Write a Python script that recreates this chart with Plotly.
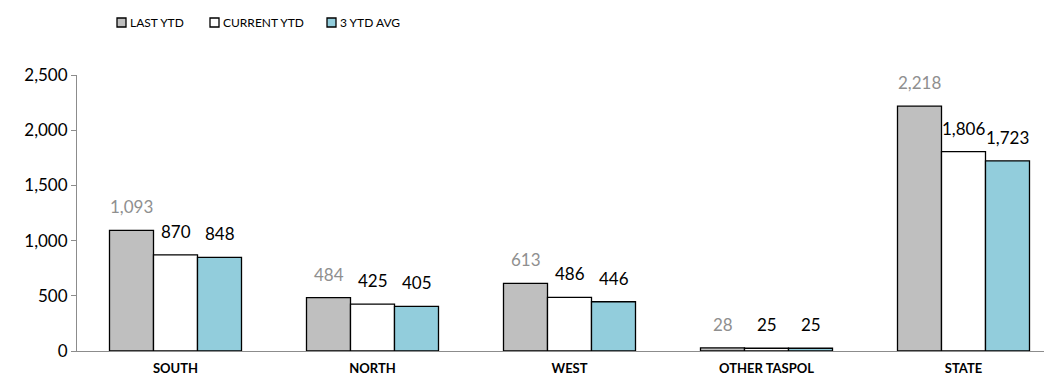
import plotly.graph_objects as go

categories = ["SOUTH", "NORTH", "WEST", "OTHER TASPOL", "STATE"]
last_ytd = [1093, 484, 613, 28, 2218]
current_ytd = [870, 425, 486, 25, 1806]
avg_3ytd = [848, 405, 446, 25, 1723]

series = [
    ("LAST YTD", last_ytd, "#bfbfbf", "#8f8f8f"),
    ("CURRENT YTD", current_ytd, "white", "black"),
    ("3 YTD AVG", avg_3ytd, "#92cddc", "black"),
]

FONT = "Lato, 'Open Sans', sans-serif"

# pixel geometry (page body adds an 8px offset, so margins are trimmed)
PAGE_OFF = 8
L, T, B = 77 - PAGE_OFF, 75 - PAGE_OFF, 27 + PAGE_OFF
W, H = 1052, 378
PW, PH = W - L, H - T - B
CAT_PX = 197
BAR_PX = 44

fig = go.Figure()

for i, (name, vals, fill, txt_color) in enumerate(series):
    fig.add_trace(go.Bar(
        x=categories, y=vals, name=name, showlegend=False,
        marker=dict(color=fill, line=dict(color="black", width=1.3)),
        hoverinfo="x+y",
    ))
    for c, v in zip(categories, vals):
        fig.add_annotation(
            x=c, y=v, text=f"{v:,}", showarrow=False,
            xshift=(i - 1) * BAR_PX, yshift=11, yanchor="bottom",
            font=dict(size=17, family=FONT, color=txt_color),
        )

# legend drawn as small squares + labels (screen pixel positions)
legend_px = [117, 210, 327]
for (name, _, fill, _), px in zip(series, legend_px):
    px -= PAGE_OFF
    x0 = (px - L) / PW
    x1 = (px + 9 - L) / PW
    fig.add_shape(
        type="rect", xref="paper", yref="paper",
        x0=x0, x1=x1,
        y0=(H - B - (27 - PAGE_OFF)) / PH, y1=(H - B - (18 - PAGE_OFF)) / PH,
        fillcolor=fill, line=dict(color="black", width=1.3),
    )
    fig.add_annotation(
        xref="paper", yref="paper", x=(px + 11 - L) / PW,
        y=(H - B - (22.5 - PAGE_OFF)) / PH,
        xanchor="left", yanchor="middle", text=name, showarrow=False,
        font=dict(size=12, family=FONT, color="black"),
    )

fig.update_layout(
    width=W, height=H,
    margin=dict(l=L, r=0, t=T, b=B, autoexpand=False),
    paper_bgcolor="white", plot_bgcolor="white",
    barmode="group", bargap=1 - 3 * BAR_PX / CAT_PX, bargroupgap=0,
    font=dict(family=FONT, color="black"),
    showlegend=False,
)

fig.update_xaxes(
    range=[-0.5, -0.5 + PW / CAT_PX], automargin=False,
    showline=True, linecolor="#8c8c8c", linewidth=1,
    showgrid=False, ticks="", ticklabelstandoff=5,
    tickfont=dict(size=13, family=FONT, color="black", weight="bold"),
)
fig.update_yaxes(
    range=[0, 2500], dtick=500, tickformat=",", automargin=False,
    showline=True, linecolor="#8c8c8c", linewidth=1,
    showgrid=False, ticks="outside", ticklen=5, tickcolor="#8c8c8c",
    tickfont=dict(size=17, family=FONT, color="black"),
    zeroline=False,
)

fig.write_html("out.html")
